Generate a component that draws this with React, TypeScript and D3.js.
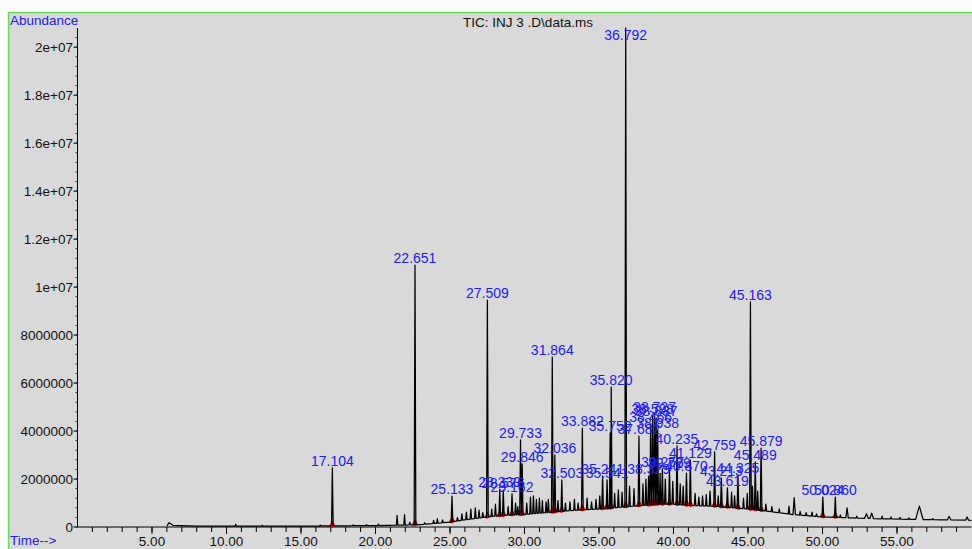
import React from 'react';
import * as d3 from 'd3';

// baseline of the TIC trace: [time (min), abundance]
const baseline: [number, number][] = [
  [6.0, 0.05e6], [6.15, 0.18e6], [6.4, 0.07e6], [8, 0.04e6], [10, 0.04e6], [13, 0.04e6],
  [16, 0.04e6], [18, 0.05e6], [20, 0.06e6], [22, 0.08e6], [23, 0.1e6], [24, 0.15e6],
  [25, 0.2e6], [26, 0.3e6], [27, 0.38e6], [28, 0.45e6], [29, 0.5e6], [30, 0.52e6],
  [31, 0.58e6], [32, 0.62e6], [33, 0.68e6], [34, 0.72e6], [35, 0.75e6], [36, 0.8e6],
  [37, 0.85e6], [38, 0.9e6], [39, 0.95e6], [40, 0.95e6], [41, 0.9e6], [42, 0.88e6],
  [43, 0.85e6], [44, 0.8e6], [45, 0.75e6], [46, 0.68e6], [47, 0.6e6], [48, 0.52e6],
  [49, 0.47e6], [50, 0.42e6], [52, 0.38e6], [54, 0.34e6], [56, 0.32e6], [58, 0.3e6],
  [60, 0.28e6],
];

// integrated peaks: [retention time label, apex abundance]
const labeledPeaks: [string, number][] = [
  ['17.104', 2.46e6], ['22.651', 10.92e6], ['25.133', 1.29e6], ['27.509', 9.46e6],
  ['28.339', 1.58e6], ['28.576', 1.54e6], ['29.162', 1.38e6], ['29.733', 3.63e6],
  ['29.846', 2.63e6], ['31.864', 7.08e6], ['32.036', 3.0e6], ['32.503', 1.96e6],
  ['33.882', 4.12e6], ['35.241', 2.12e6], ['35.541', 1.96e6], ['35.752', 3.92e6],
  ['35.820', 5.83e6], ['36.792', 2.08e7], ['37.682', 3.79e6], ['38.329', 2.12e6],
  ['38.466', 4.29e6], ['38.598', 4.62e6], ['38.727', 4.71e6], ['38.837', 4.54e6],
  ['38.938', 4.04e6], ['39.253', 2.42e6], ['39.729', 2.38e6], ['40.235', 3.38e6],
  ['40.870', 2.25e6], ['41.129', 2.79e6], ['42.759', 3.13e6], ['43.213', 2.04e6],
  ['43.619', 1.63e6], ['44.325', 2.17e6], ['45.163', 9.38e6], ['45.489', 2.71e6],
  ['45.879', 3.29e6], ['50.024', 1.25e6], ['50.860', 1.25e6],
];

// unlabelled small peaks: [time, apex abundance, half width (min)]
const minorPeaks: [number, number, number?][] = [
  [10.62, 0.12e6], [12.4, 0.07e6], [16.3, 0.08e6], [18.5, 0.09e6], [19.4, 0.1e6], [20.2, 0.12e6],
  [21.45, 0.48e6], [21.95, 0.52e6], [22.3, 0.2e6], [23.3, 0.18e6], [23.9, 0.28e6], [24.15, 0.35e6],
  [24.5, 0.3e6], [25.5, 0.4e6], [25.8, 0.55e6], [26.1, 0.62e6], [26.4, 0.75e6], [26.7, 0.8e6],
  [26.95, 0.7e6], [27.2, 0.6e6], [27.8, 0.75e6], [28.05, 0.95e6], [28.9, 0.85e6], [29.4, 1.0e6],
  [29.55, 0.85e6], [30.15, 1.0e6], [30.4, 1.25e6], [30.6, 1.3e6], [30.8, 1.15e6], [31.0, 1.2e6],
  [31.2, 1.1e6], [31.45, 1.05e6], [31.6, 1.15e6], [32.25, 1.1e6], [32.75, 1.0e6], [33.05, 1.05e6],
  [33.35, 1.15e6], [33.6, 1.0e6], [34.2, 1.2e6], [34.5, 1.05e6], [34.8, 1.15e6], [35.05, 1.3e6],
  [36.05, 1.4e6], [36.3, 1.55e6], [36.55, 1.45e6], [37.05, 1.7e6], [37.35, 1.6e6], [37.95, 1.8e6],
  [38.15, 2.0e6], [39.1, 2.2e6], [39.45, 2.0e6], [39.95, 1.9e6], [40.45, 1.8e6], [40.65, 1.7e6],
  [41.45, 1.4e6], [41.7, 1.25e6], [41.95, 1.3e6], [42.2, 1.35e6], [42.45, 1.5e6], [43.0, 1.3e6],
  [43.9, 1.45e6], [44.1, 1.3e6], [44.7, 1.2e6], [44.95, 1.4e6], [45.3, 1.7e6], [45.65, 1.5e6],
  [46.2, 0.95e6], [46.6, 0.85e6], [47.1, 0.75e6], [47.75, 0.87e6], [48.1, 1.22e6, 0.08],
  [48.5, 0.65e6], [48.9, 0.6e6], [49.3, 0.62e6], [49.6, 0.55e6], [51.2, 0.5e6],
  [51.65, 0.8e6, 0.08], [52.3, 0.45e6], [52.95, 0.55e6, 0.12], [53.3, 0.58e6, 0.12],
  [54.0, 0.45e6], [54.6, 0.42e6], [55.2, 0.4e6], [55.8, 0.38e6], [56.5, 0.87e6, 0.25],
  [57.4, 0.35e6], [58.5, 0.44e6, 0.12], [59.7, 0.42e6, 0.1],
];

const yTickValues = [0, 2e6, 4e6, 6e6, 8e6, 1e7, 1.2e7, 1.4e7, 1.6e7, 1.8e7, 2e7];
const yTickLabels = ['0', '2000000', '4000000', '6000000', '8000000', '1e+07', '1.2e+07', '1.4e+07', '1.6e+07', '1.8e+07', '2e+07'];
const xTickValues = [5, 10, 15, 20, 25, 30, 35, 40, 45, 50, 55];
const xTickLabels = ['5.00', '10.00', '15.00', '20.00', '25.00', '30.00', '35.00', '40.00', '45.00', '50.00', '55.00'];

const FONT = '"Liberation Sans", Arial, Helvetica, sans-serif';
const BLUE = '#2020ee';

export default function App() {
  const W = 972, H = 549;
  const x = d3.scaleLinear().domain([0, 60]).range([77.5, 971.5]);
  const y = d3.scaleLinear().domain([0, 2.08e7]).range([527, 28]);

  const bis = d3.bisector((d: [number, number]) => d[0]).right;
  const baseAt = (t: number) => {
    const i = bis(baseline, t);
    if (i <= 0) return baseline[0][1];
    if (i >= baseline.length) return baseline[baseline.length - 1][1];
    const [t0, v0] = baseline[i - 1];
    const [t1, v1] = baseline[i];
    return v0 + (v1 - v0) * (t - t0) / (t1 - t0);
  };

  const peaks = [
    ...labeledPeaks.map(([s, h]) => ({ t: +s, h, w: 0.055 })),
    ...minorPeaks.map(([t, h, w]) => ({ t, h, w: w ?? 0.05 })),
  ];

  // merge baseline with peak spikes
  const pts: [number, number][] = baseline.filter(([t]) => !peaks.some(p => Math.abs(t - p.t) < p.w));
  peaks.forEach(p => {
    const a = Math.max(6.0, p.t - p.w);
    pts.push([a, baseAt(a)], [p.t, p.h], [p.t + p.w, baseAt(p.t + p.w)]);
  });
  pts.sort((a, b) => a[0] - b[0]);

  const line = d3.line<[number, number]>()
    .x(d => x(d[0]))
    .y(d => y(Math.min(d[1], 2.08e7)));

  // red integration marks at the foot of each integrated peak
  const redPath = labeledPeaks.map(([s]) => {
    const t = +s;
    const b = baseAt(t);
    return `M${x(t - 0.22)},${y(baseAt(t - 0.22))}L${x(t)},${y(b + 0.25e6)}L${x(t + 0.22)},${y(baseAt(t + 0.22))}L${x(t)},${y(b - 0.07e6)}Z`;
  }).join('');

  const minorX = d3.range(1, 60);
  const minorY = d3.range(0, 2.08e7, 4e5);

  return (
    <svg width={W} height={H} style={{ position: 'absolute', left: 0, top: 0, fontFamily: FONT }}>
      <rect x={0} y={0} width={W} height={H} fill="#fff" />
      <rect x={8.5} y={12.5} width={W} height={H} fill="#d9d9d9" stroke="#66dd55" strokeWidth={1.5} />

      <text x={10} y={25} fill={BLUE} fontSize={13.5}>Abundance</text>
      <text x={10} y={545} fill={BLUE} fontSize={13.5}>Time--&gt;</text>
      <text x={528} y={27} fill="#111" fontSize={13.5} textAnchor="middle">TIC: INJ 3 .D\data.ms</text>

      {/* y axis */}
      <line x1={x(0)} x2={x(0)} y1={28} y2={527} stroke="#000" strokeWidth={1} />
      {minorY.map(v => (
        <line key={'my' + v} x1={x(0) - 2} x2={x(0)} y1={y(v)} y2={y(v)} stroke="#000" strokeWidth={0.8} />
      ))}
      {yTickValues.map((v, i) => (
        <g key={'y' + v}>
          <line x1={x(0) - 4} x2={x(0)} y1={y(v)} y2={y(v)} stroke="#000" />
          <text x={73} y={y(v)} dy="0.35em" textAnchor="end" fontSize={13.5} fill="#111">{yTickLabels[i]}</text>
        </g>
      ))}

      {/* x axis */}
      <line x1={x(0)} x2={x(60)} y1={527} y2={527} stroke="#000" strokeWidth={1} />
      {minorX.map(v => (
        <line key={'mx' + v} x1={x(v)} x2={x(v)} y1={527} y2={532} stroke="#000" strokeWidth={1} />
      ))}
      {xTickValues.map((v, i) => (
        <g key={'x' + v}>
          <line x1={x(v)} x2={x(v)} y1={527} y2={534} stroke="#000" />
          <text x={x(v)} y={546} textAnchor="middle" fontSize={13.5} fill="#111">{xTickLabels[i]}</text>
        </g>
      ))}

      <path d={redPath} fill="#e01010" stroke="none" />
      <path d={line(pts) || ''} fill="none" stroke="#000" strokeWidth={1.25} strokeLinejoin="round" />

      {labeledPeaks.map(([s, h]) => (
        <text key={'l' + s} x={x(+s)} y={Math.max(y(Math.min(h, 2.08e7)) - 2, 40)} textAnchor="middle"
          fontSize={14} fill={BLUE}>{s}</text>
      ))}
    </svg>
  );
}
